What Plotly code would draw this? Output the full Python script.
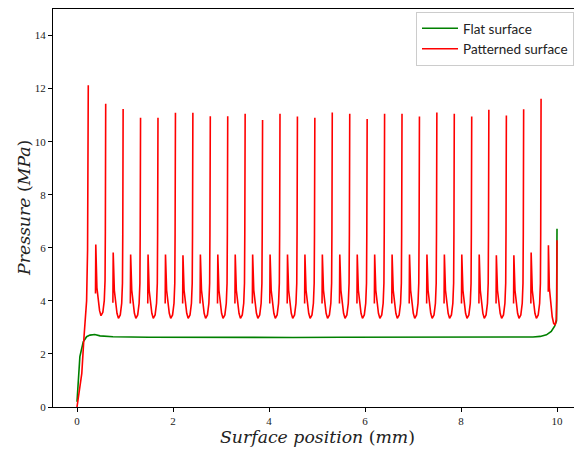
import plotly.graph_objects as go

# ---------------- data ----------------
# Flat surface
flat_x = [0.0, 0.06, 0.13, 0.20, 0.27, 0.37, 0.48, 0.75, 1.5, 2.5, 3.5, 4.5, 5.5,
          6.5, 7.5, 8.5, 9.3, 9.5, 9.65, 9.78, 9.88, 9.95, 9.99, 10.0]
flat_p = [0.20, 1.90, 2.46, 2.65, 2.71, 2.73, 2.68, 2.65, 2.63, 2.62, 2.63, 2.62, 2.63,
          2.63, 2.62, 2.63, 2.63, 2.64, 2.66, 2.72, 2.85, 3.05, 3.25, 6.72]

# Patterned surface: entry ramp up to the first peak
ramp_x = [0.0, 0.10, 0.146, 0.18, 0.20, 0.22, 0.23]
ramp_p = [0.0, 1.27, 2.65, 3.40, 4.00, 5.90, 8.00]

# tall peaks (end of each land)
peak_x = [0.235, 0.598, 0.961, 1.324, 1.687, 2.051, 2.414, 2.777, 3.140, 3.503,
          3.866, 4.229, 4.592, 4.955, 5.318, 5.682, 6.045, 6.408, 6.771, 7.134,
          7.497, 7.860, 8.223, 8.580, 8.945, 9.305, 9.668]
peak_p = [12.13, 11.43, 11.23, 10.90, 10.90, 11.09, 11.09, 10.96, 10.96, 11.05,
          10.82, 11.05, 10.95, 10.90, 11.10, 11.05, 10.85, 11.05, 11.05, 10.95,
          11.10, 11.05, 10.95, 11.20, 10.99, 11.22, 11.62]

# groove width after each peak (no pressure data there)
groove_w = 0.15

# each land between two peaks: start value, small entry spike, minimum
land_start_p = [4.28, 3.93] + [3.90] * 24
land_spike_p = [6.12, 5.82, 5.75, 5.75, 5.75, 5.72, 5.75, 5.75, 5.75, 5.75,
                5.75, 5.75, 5.75, 5.75, 5.75, 5.75, 5.75, 5.75, 5.75, 5.75,
                5.75, 5.75, 5.75, 5.72, 5.72, 5.82]
land_min_p = [3.44] + [3.34] * 25

# typical land profile (fraction of land length, pressure)
land_frac = [0.0, 0.03, 0.14, 0.29, 0.40, 0.54, 0.72, 0.86, 0.935, 0.965, 1.0]
land_shape_p = [None, None, 4.40, 3.91, 3.53, 3.34, 3.47, 3.91, 4.66, 6.50, None]

# last land, up to the outlet
final_x = [9.818, 9.821, 9.84, 9.87, 9.90, 9.93, 9.96, 9.985, 9.995, 10.0]
final_p = [4.34, 6.10, 4.50, 3.80, 3.40, 3.15, 3.09, 3.30, 4.00, 6.28]

# ---------------- build the patterned curve ----------------
red_x = list(ramp_x) + [peak_x[0]]
red_p = list(ramp_p) + [peak_p[0]]
for j in range(len(peak_x) - 1):
    x0 = peak_x[j] + groove_w
    x1 = peak_x[j + 1]
    red_x.append(None)
    red_p.append(None)
    shift = land_min_p[j] - 3.34
    for f, sp in zip(land_frac, land_shape_p):
        red_x.append(x0 + f * (x1 - x0))
        if f == 0.0:
            red_p.append(land_start_p[j])
        elif sp is None and f < 0.5:
            red_p.append(land_spike_p[j])
        elif sp is None:
            red_p.append(peak_p[j + 1])
        else:
            red_p.append(sp + shift)
red_x.append(None)
red_p.append(None)
red_x += final_x
red_p += final_p

fig = go.Figure()
fig.add_trace(go.Scatter(x=flat_x, y=flat_p, mode="lines", name="Flat surface",
                         line=dict(color="#008000", width=1.6)))
fig.add_trace(go.Scatter(x=red_x, y=red_p, mode="lines", name="Patterned surface",
                         line=dict(color="#ff0000", width=1.6), connectgaps=False))

axis_common = dict(showline=True, linecolor="black", linewidth=1, showgrid=False,
                   zeroline=False, ticks="outside", ticklen=4, tickwidth=1,
                   tickcolor="black", automargin=False,
                   tickfont=dict(family="Liberation Serif", size=11, color="#222"))

title_font = dict(family="DejaVu Serif", size=17.3, color="#222")

fig.update_layout(
    width=574, height=450,
    margin=dict(l=53, r=0, t=9, b=43, autoexpand=False),
    paper_bgcolor="white", plot_bgcolor="white",
    xaxis=dict(range=[-0.5, 10.354], tickvals=[0, 2, 4, 6, 8, 10], mirror=True,
               **axis_common),
    yaxis=dict(range=[0, 15], tickvals=[0, 2, 4, 6, 8, 10, 12, 14],
               **axis_common),
    legend=dict(x=1, y=0.9925, xanchor="right", yanchor="top", itemwidth=36,
                bordercolor="#cccccc", borderwidth=1, bgcolor="rgba(255,255,255,0.8)",
                font=dict(family="Lato", size=13.5, color="#222")),
    showlegend=True,
    annotations=[
        dict(text="<i>Surface position</i> (<i>mm</i>)", xref="paper", yref="paper",
             x=0.507, y=-0.0754, xanchor="center", yanchor="middle", showarrow=False,
             font=title_font),
        dict(text="<i>Pressure</i> (<i>MPa</i>)", xref="paper", yref="paper",
             x=-0.0557, y=0.5, xanchor="center", yanchor="middle", showarrow=False,
             textangle=-90, font=title_font),
    ],
)

fig.write_html("out.html", config={"displayModeBar": False},
               post_script="document.body.style.margin='0';")
